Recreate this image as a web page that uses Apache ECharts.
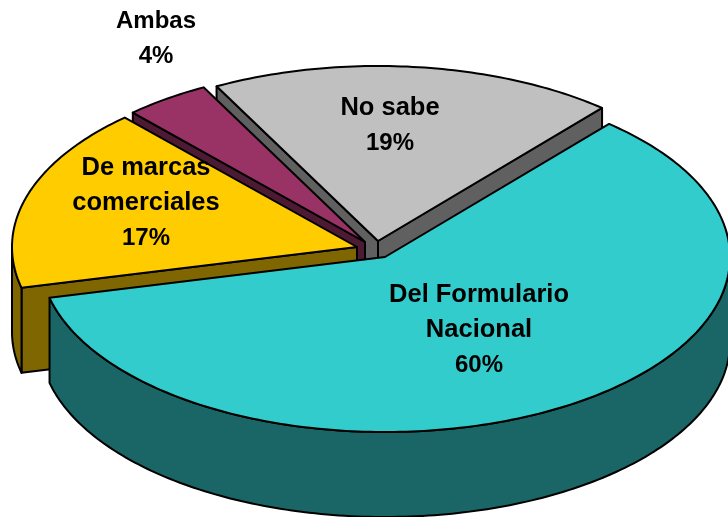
<!DOCTYPE html>
<html>
<head>
<meta charset="utf-8">
<style>html,body{margin:0;padding:0;background:#fff}#c{width:728px;height:517px}</style>
<script src="https://cdn.jsdelivr.net/npm/echarts@6/dist/echarts.min.js"></script>
</head>
<body>
<div id="c"></div>
<script>
const categories = ['Del Formulario\nNacional', 'De marcas\ncomerciales', 'Ambas', 'No sabe'];
const percentages = [60, 17, 4, 19];
const topColors = ['#33CCCC', '#FFCC00', '#993366', '#C0C0C0'];
const sideColors = ['#1A6666', '#806600', '#4D1A33', '#606060'];

// Layout of the projected pie
const sliceCentres = [[385, 257], [357, 247], [365, 242], [378, 241]];
const labelCentres = [[479, 330], [146, 203], [156, 39], [390, 126]];
const nameFontSizes = [25.5, 25.5, 24, 25.5];
const radiusX = 345, radiusY = 175, depth = 85, startDeg = 49.5;
const drawOrder = [3, 2, 1, 0];

const total = percentages.reduce((a, b) => a + b, 0);
function sliceAngles(i) {
  let a = startDeg;
  for (let k = 0; k < i; k++) a -= percentages[k] / total * 360;
  return [a, a - percentages[i] / total * 360];
}
function rim(c, deg, dz) {
  const t = deg * Math.PI / 180;
  return [c[0] + radiusX * Math.cos(t), c[1] - radiusY * Math.sin(t) + dz];
}
function arc(c, from, to, dz) {
  const pts = [], n = Math.max(2, Math.ceil(Math.abs(to - from)));
  for (let j = 0; j <= n; j++) pts.push(rim(c, from + (to - from) * j / n, dz));
  return pts;
}
function poly(points, fill) {
  return { type: 'polygon', shape: { points },
    style: { fill, stroke: '#000', lineWidth: 2, lineJoin: 'round' } };
}
function renderSlice(params, api) {
  const i = drawOrder[params.dataIndex];
  const [a0, a1] = sliceAngles(i);
  const c = sliceCentres[i];
  const children = [];
  const down = p => [p[0], p[1] + depth];
  const p0 = rim(c, a0, 0), p1 = rim(c, a1, 0);
  // Only the faces turned towards the viewer are drawn
  if (Math.cos(a0 * Math.PI / 180) < 0) children.push(poly([c, p0, down(p0), down(c)], sideColors[i]));
  if (Math.cos(a1 * Math.PI / 180) > 0) children.push(poly([c, p1, down(p1), down(c)], sideColors[i]));
  const wallFrom = Math.min(a0, 0), wallTo = Math.max(a1, -180);
  if (wallFrom > wallTo) {
    children.push(poly(arc(c, wallFrom, wallTo, 0).concat(arc(c, wallTo, wallFrom, depth)), sideColors[i]));
  }
  children.push(poly([c].concat(arc(c, a0, a1, 0)), topColors[i]));
  return { type: 'group', children };
}
function renderLabel(params, api) {
  const i = params.dataIndex;
  const lines = categories[i].split('\n').map(s => '{n|' + s + '}');
  lines.push('{p|' + percentages[i] + '%}');
  const font = size => 'bold ' + size + 'px "Liberation Sans", Arial, sans-serif';
  return { type: 'text', x: labelCentres[i][0], y: labelCentres[i][1], style: {
    text: lines.join('\n'),
    fill: '#000', align: 'center', verticalAlign: 'middle',
    rich: {
      n: { font: font(nameFontSizes[i]), lineHeight: 35.5, fill: '#000', align: 'center' },
      p: { font: font(24), lineHeight: 35.5, fill: '#000', align: 'center' }
    } } };
}

const chart = echarts.init(document.getElementById('c'), null, { renderer: 'canvas' });
chart.setOption({
  animation: false,
  backgroundColor: '#ffffff',
  series: [
    { type: 'custom', coordinateSystem: 'none', z: 2, silent: true, renderItem: renderSlice,
      data: drawOrder.map(i => ({ name: categories[i], value: percentages[i] })) },
    { type: 'custom', coordinateSystem: 'none', z: 3, silent: true, renderItem: renderLabel,
      data: categories.map((n, i) => ({ name: n, value: percentages[i] })) }
  ]
});
</script>
</body>
</html>
